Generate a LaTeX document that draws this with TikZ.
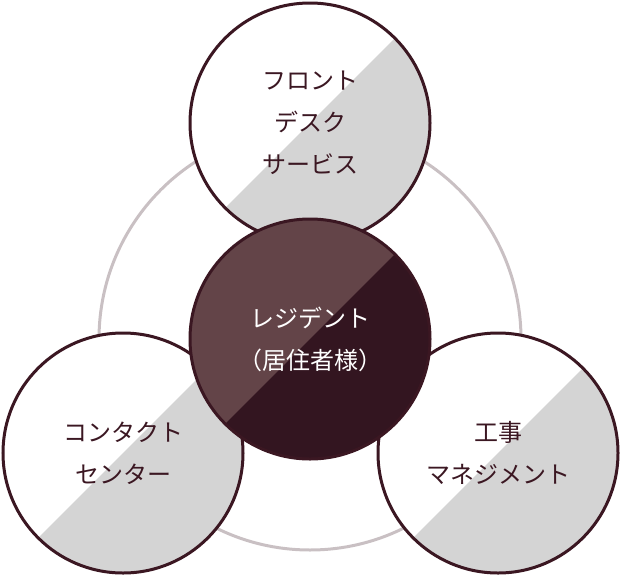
\documentclass[tikz,border=0pt]{standalone}
\usepackage{fontspec}
\setmainfont{Noto Sans CJK JP}
\definecolor{maroon}{HTML}{3B1722}
\definecolor{maroonlight}{HTML}{634448}
\definecolor{maroondark}{HTML}{331520}
\definecolor{halfgray}{HTML}{D4D4D4}
\definecolor{ringgray}{HTML}{C9C0C3}
\begin{document}
\begin{tikzpicture}[x=1pt, y=-1pt, font=\fontsize{24}{42}\selectfont,
  bubble/.style={circle, draw=maroon, line width=3pt, minimum size=240pt,
    inner sep=0pt, align=center, text=maroon, fill=white,
    path picture={\fill[#1] (path picture bounding box.south west)
      -- (path picture bounding box.north east)
      -- (path picture bounding box.south east) -- cycle;}},
  bubble/.default=halfgray]

  \useasboundingbox (0,0) rectangle (621,576);

  % ring -- light outline joining the three outer circles
  \node[circle, draw=ringgray, line width=3pt, minimum size=422pt, inner sep=0pt]
    (ring) at (310,339) {};

  % outer circles -- white with grey lower-right half
  \node[bubble] (front) at (310,123) {フロント\\デスク\\サービス};
  \node[bubble] (contact) at (123,453) {コンタクト\\センター};
  \node[bubble] (works) at (498,453) {工事\\マネジメント};

  % resident -- centre circle drawn last, on top
  \node[bubble=maroondark, fill=maroonlight, text=white]
    (resident) at (310,339) {レジデント\\（居住者様）};

\end{tikzpicture}
\end{document}
